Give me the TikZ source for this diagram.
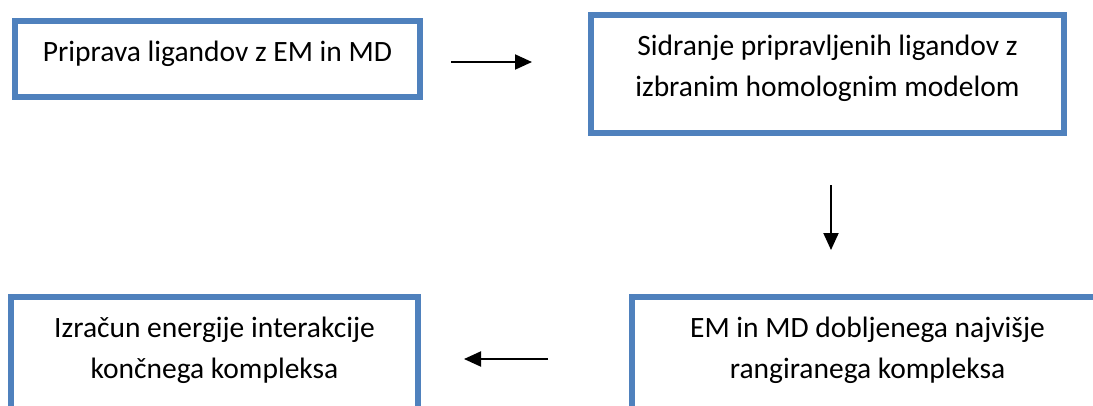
\documentclass[tikz,border=0pt]{standalone}
\usepackage{fontspec}
\setmainfont{Carlito}
\usetikzlibrary{arrows.meta}
\definecolor{okvirmodra}{RGB}{79,129,189}

\begin{document}
\begin{tikzpicture}[x=1pt,y=-1pt,
    korak/.style={draw=okvirmodra,line width=6pt,align=center,inner sep=0pt,
      text depth=16pt,font=\fontsize{29.5}{41}\selectfont},
    tok/.style={-{Triangle[length=17pt,width=15pt]},line width=2pt}]
        \useasboundingbox (0,0) rectangle (1093,405);
        \clip (0,0) rectangle (1093,405);

        % Koraki postopka
        \node[korak,minimum width=405pt,minimum height=76pt] (prip) at (217.5,59)
            {Priprava ligandov z EM in MD};
        \node[korak,minimum width=473pt,minimum height=118pt] (sidr) at (827.5,74)
            {Sidranje pripravljenih ligandov z\\izbranim homolognim modelom};
        \node[korak,minimum width=471pt,minimum height=117pt] (emmd) at (867.5,355.5)
            {EM in MD dobljenega najvišje\\rangiranega kompleksa};
        \node[korak,minimum width=407pt,minimum height=117pt] (izra) at (214.5,355.5)
            {Izračun energije interakcije\\končnega kompleksa};

        % Puščice med koraki
        \coordinate (t1) at ([yshift=-3pt]prip.east);
        \coordinate (t2) at ([xshift=3.5pt]sidr.south);
        \coordinate (t3) at ([yshift=-3.5pt]emmd.west);
        \draw[tok,shorten <=28pt,shorten >=56pt] (t1) -- (t1 -| sidr.west);
        \draw[tok,shorten <=49pt,shorten >=44pt] (t2) -- (t2 |- emmd.north);
        \draw[tok,shorten <=81pt,shorten >=43pt] (t3) -- (t3 -| izra.east);
\end{tikzpicture}
\end{document}
